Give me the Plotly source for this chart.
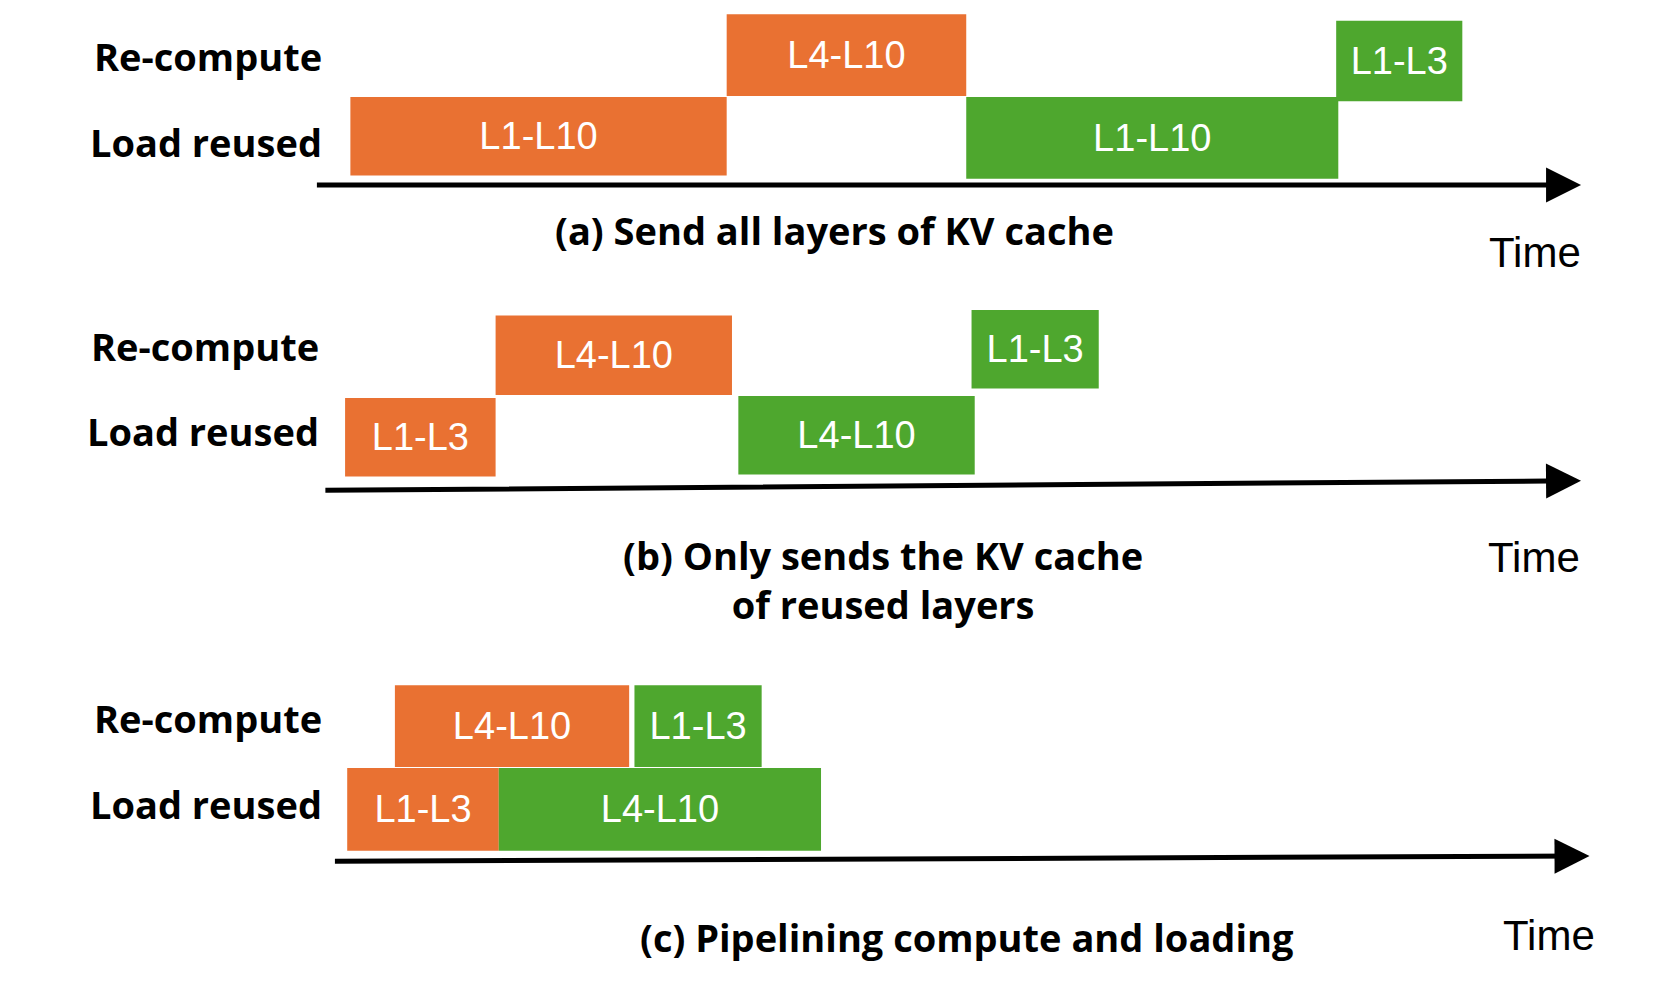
import plotly.graph_objects as go

S = 1.06  # reference drawing units -> page pixels

# blocks: label, colour key, start, end, top, bottom
labels = ["L4-L10", "L1-L10", "L1-L10", "L1-L3",
          "L4-L10", "L1-L3", "L4-L10", "L1-L3",
          "L4-L10", "L1-L3", "L1-L3", "L4-L10"]
kinds = ["o", "o", "g", "g", "o", "o", "g", "g", "o", "g", "o", "g"]
starts = [678, 323, 904, 1253, 460, 318, 689, 909, 365, 591, 320, 463]
ends = [904, 678, 1255, 1372, 683, 460, 912, 1029, 586, 711, 463, 767]
tops = [6, 84, 84, 12, 290, 368, 366, 285, 639, 639, 717, 717]
bottoms = [83, 158, 161, 88, 365, 442, 440, 359, 716, 716, 795, 795]

row_names = ["Re-compute", "Load reused"] * 3
row_x = [298, 298, 295, 295, 298, 298]
row_y = [45, 126, 319, 399, 670, 751]

captions = ["(a) Send all layers of KV cache",
            "(b) Only sends the KV cache<br>of reused layers",
            "(c) Pipelining compute and loading"]
cap_x = [780, 825, 905]
cap_y = [209, 539, 876]
time_x = [1441, 1440, 1454]
time_y = [231, 518, 875]
arrow_x0 = [290, 298, 307]
arrow_y0 = [167, 455, 805]
arrow_x1 = [1484, 1484, 1492]
arrow_y1 = [167, 446, 800]

colors = {"o": "#E97132", "g": "#4EA72E"}

fig = go.Figure()
for k in ["o", "g"]:
    idx = [i for i in range(len(labels)) if kinds[i] == k]
    fig.add_trace(go.Bar(
        orientation="h",
        base=[starts[i] * S for i in idx],
        x=[(ends[i] - starts[i]) * S for i in idx],
        y=[(tops[i] + bottoms[i]) / 2 * S for i in idx],
        width=[(bottoms[i] - tops[i]) * S for i in idx],
        text=[labels[i] for i in idx],
        textposition="inside", insidetextanchor="middle", constraintext="none",
        textfont=dict(color="white", size=38, family="Liberation Sans"),
        marker=dict(color=colors[k], line=dict(width=0)),
        hoverinfo="skip", showlegend=False))

ann = []
for n, x, y in zip(row_names, row_x, row_y):
    ann.append(dict(x=x * S, y=y * S, text=n, showarrow=False, xanchor="right",
                    font=dict(size=38, family="Open Sans", weight="bold", color="black")))
for c, x, y in zip(captions, cap_x, cap_y):
    ann.append(dict(x=x * S, y=y * S, text=c, showarrow=False,
                    font=dict(size=38, family="Open Sans", weight="bold", color="black")))
for x, y in zip(time_x, time_y):
    ann.append(dict(x=x * S, y=y * S, text="Time", showarrow=False,
                    font=dict(size=42, family="Liberation Sans", color="black")))
for x0, y0, x1, y1 in zip(arrow_x0, arrow_y0, arrow_x1, arrow_y1):
    ann.append(dict(x=x1 * S, y=y1 * S, ax=x0 * S, ay=y0 * S, axref="x", ayref="y",
                    xref="x", yref="y", text="", showarrow=True, arrowhead=2,
                    arrowwidth=5, arrowsize=1.4, arrowcolor="black"))

fig.update_layout(
    width=1661, height=987, margin=dict(l=0, r=0, t=0, b=0),
    plot_bgcolor="white", paper_bgcolor="white", barmode="overlay",
    xaxis=dict(range=[0, 1661], visible=False, fixedrange=True),
    yaxis=dict(range=[987, 0], visible=False, fixedrange=True),
    annotations=ann)
fig.write_html("out.html")
